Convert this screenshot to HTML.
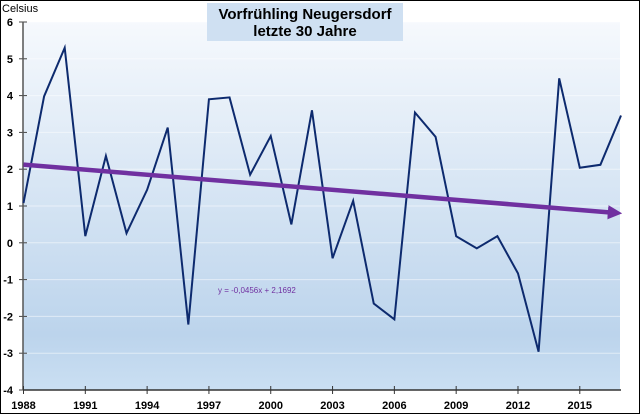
<!DOCTYPE html>
<html><head><meta charset="utf-8"><style>
html,body{margin:0;padding:0;background:#fff}
svg{display:block;font-family:"Liberation Sans",sans-serif}
</style></head><body>
<svg id="c" width="640" height="414" viewBox="0 0 640 414">
<defs>
<linearGradient id="bg" x1="0" y1="0" x2="0" y2="1">
<stop offset="0" stop-color="#f6f9fd"/><stop offset="0.85" stop-color="#bcd4ec"/><stop offset="1" stop-color="#cadff2"/>
</linearGradient>
<marker id="ah" viewBox="0 0 10 10" refX="5" refY="5" markerWidth="3.2" markerHeight="3.2" orient="auto"><path d="M0,0 L10,5 L0,10 z" fill="#7030a0"/></marker>
</defs>
<rect x="0.5" y="0.5" width="639" height="413" fill="#fff" stroke="#000"/>
<rect id="plot" x="23" y="22" width="597" height="368" fill="url(#bg)"/>
<g id="grid"></g>
<rect x="207" y="3" width="196" height="38" fill="#cfe0f2"/>
<text x="305" y="19" text-anchor="middle" font-size="15" font-weight="bold" fill="#000">Vorfrühling Neugersdorf</text>
<text x="305" y="36" text-anchor="middle" font-size="15" font-weight="bold" fill="#000">letzte 30 Jahre</text>
<text x="2" y="12" font-size="11" fill="#000">Celsius</text>
<g id="axes"></g>
<g id="marks"></g>
<text x="218" y="293" font-size="8" fill="#7030a0">y = -0,0456x + 2,1692</text>
</svg>
<script>
const years=[1988,1989,1990,1991,1992,1993,1994,1995,1996,1997,1998,1999,2000,2001,2002,2003,2004,2005,2006,2007,2008,2009,2010,2011,2012,2013,2014,2015,2016,2017];
const temps=[1.08,3.98,5.3,0.18,2.36,0.26,1.44,3.13,-2.22,3.9,3.95,1.85,2.9,0.5,3.6,-0.42,1.14,-1.65,-2.08,3.54,2.88,0.18,-0.15,0.18,-0.83,-2.96,4.47,2.04,2.12,3.46];
const yTicks=[-4,-3,-2,-1,0,1,2,3,4,5,6];
const xTickLabels=[1988,1991,1994,1997,2000,2003,2006,2009,2012,2015];
const trendSlope=-0.0456, trendIntercept=2.1692;
const X0=23.5,X1=621,Y0=390,Y1=22;
const xs=y=>X0+(y-1988)*(X1-X0)/29;
const ys=v=>Y0-(v+4)*(Y0-Y1)/10;
const NS='http://www.w3.org/2000/svg';
function mk(t,a,p){const e=document.createElementNS(NS,t);for(const k in a)e.setAttribute(k,a[k]);document.getElementById(p).appendChild(e);return e;}
yTicks.forEach(v=>{
 const g=mk('line',{x1:23,x2:620,y1:ys(v),y2:ys(v),stroke:'#ffffff',"stroke-opacity":0.5,"stroke-width":1},'grid');
 
 
 const t=mk('line',{x1:19,x2:27,y1:ys(v),y2:ys(v),stroke:'#444'},'axes');
 
 
 const l=mk('text',{x:13,y:ys(v)+4,"text-anchor":"end","font-size":11,"font-weight":"bold"},'axes');
 l.textContent=v;
 
 
});
const ya=mk('line',{x1:23,x2:23,y1:Y1,y2:Y0,stroke:'#555',"stroke-width":1.5},'axes');


const xa=mk('line',{x1:23,x2:621,y1:Y0,y2:Y0,stroke:'#333',"stroke-width":1.5},'axes');


xTickLabels.forEach(y=>{
 const t=mk('line',{x1:xs(y),x2:xs(y),y1:Y0-4,y2:Y0+4,stroke:'#333'},'axes');
 
 
 const l=mk('text',{x:xs(y),y:409,"text-anchor":"middle","font-size":11,"font-weight":"bold"},'axes');
 l.textContent=y;
 
 
});
const pl=mk('polyline',{points:years.map((y,i)=>xs(y)+','+ys(temps[i])).join(' '),fill:'none',stroke:'#0d2a6e',"stroke-width":2,"stroke-linejoin":"miter"},'marks');


const n=years.length;
const t1=trendSlope*1+trendIntercept, tn=trendSlope*n+trendIntercept;
const tl=mk('line',{x1:xs(years[0]),y1:ys(t1),x2:xs(years[n-1])-6,y2:ys(tn)+(ys(tn)-ys(t1))*(-6)/(xs(years[n-1])-xs(years[0])),stroke:'#7030a0',"stroke-width":4.5,"marker-end":"url(#ah)"},'marks');


</script>
</body></html>
